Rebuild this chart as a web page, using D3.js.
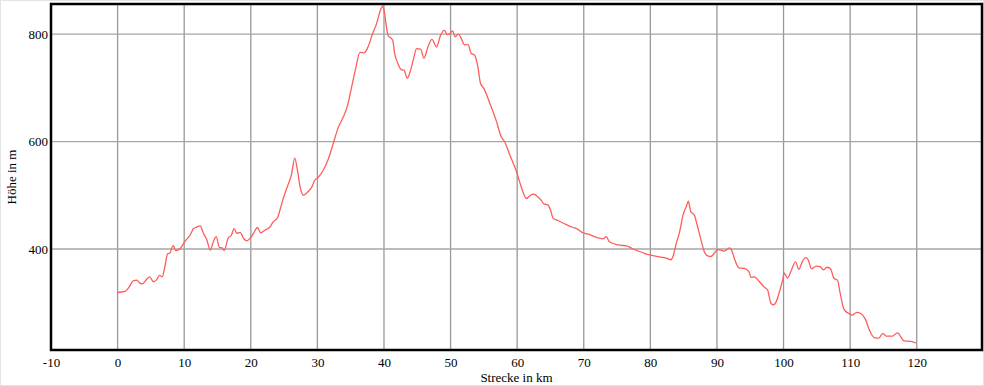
<!DOCTYPE html>
<html>
<head>
<meta charset="utf-8">
<script src="https://cdn.jsdelivr.net/npm/d3@7"></script>
<style>
  body { margin: 0; background: #fff; }
  svg { display: block; font-family: "Liberation Serif", "DejaVu Serif", serif; }
  .tick text { font-size: 13px; fill: #000; }
</style>
</head>
<body>
<div id="vis"></div>
<script>
// Höhenprofil: Strecke (km) und Höhe (m)
const strecke = [0, 1.1, 1.6, 2.4, 2.9, 3.4, 3.7, 4.4, 4.8, 5.4, 5.8, 6.3, 6.7, 7.1, 7.5, 7.9, 8.1, 8.4, 8.7, 9.4,
  10.1, 10.9, 11.4, 11.9, 12.4, 12.9, 13.4, 13.9, 14.4, 14.8, 15.3, 15.7, 16.0, 16.6, 17.1, 17.5, 17.9, 18.4, 18.9, 19.4,
  19.9, 20.4, 21.0, 21.5, 22.1, 22.8, 23.4, 24.0, 24.4, 24.8, 25.4, 26.1, 26.6, 27.0, 27.4, 27.9, 28.6, 29.2, 29.6, 30.1,
  30.9, 31.6, 32.4, 33.1, 33.9, 34.5, 35.1, 35.7, 36.4, 37.0, 37.6, 38.3, 38.9, 39.4, 39.8, 40.0, 40.3, 40.6, 41.3, 41.6,
  42.1, 42.6, 43.0, 43.5, 44.0, 44.4, 44.9, 45.5, 46.0, 46.6, 47.2, 47.9, 48.5, 49.1, 49.5, 49.9, 50.3, 50.7, 51.2, 51.6,
  52.1, 52.6, 53.1, 53.6, 54.1, 54.5, 55.0, 55.9, 56.9, 57.6, 58.1, 58.9, 59.9, 60.6, 61.4, 62.0, 62.5, 63.1, 63.6, 64.0,
  64.6, 65.0, 65.4, 66.1, 67.1, 68.4, 68.9, 69.9, 70.6, 71.6, 72.9, 73.4, 73.8, 75.4, 76.4, 77.4, 78.9, 79.9, 81.1, 82.4,
  83.1, 83.4, 83.9, 84.4, 84.9, 85.4, 85.7, 85.9, 86.1, 86.6, 87.1, 87.6, 88.1, 88.6, 89.1, 89.6, 90.1, 90.6, 91.1, 91.9,
  92.3, 92.6, 93.3, 94.1, 94.8, 95.1, 95.6, 96.4, 97.1, 97.6, 98.1, 98.5, 98.9, 99.4, 99.9, 100.1, 100.6, 101.1, 101.8, 102.3,
  102.8, 103.3, 103.7, 104.2, 104.9, 105.5, 106.0, 106.5, 107.0, 107.6, 108.1, 108.5, 109.1, 109.8, 110.3, 111.0, 111.6, 112.3, 112.9, 113.6,
  114.3, 114.9, 115.4, 116.4, 117.1, 118.1, 119.1, 119.9]
const hoehe = [319, 321, 327, 341, 342, 336, 335, 344, 348, 339, 342, 351, 348, 367, 391, 393, 401, 406, 397, 401,
  414, 426, 438, 441, 443, 429, 417, 398, 414, 423, 403, 402, 397, 420, 426, 438, 429, 431, 420, 415,
  420, 429, 440, 430, 435, 440, 451, 458, 473, 491, 513, 538, 569, 547, 516, 500, 507, 516, 528, 533,
  547, 566, 597, 625, 646, 666, 699, 733, 766, 765, 776, 801, 820, 842, 852, 845, 820, 798, 789, 764,
  745, 734, 733, 718, 733, 752, 773, 772, 755, 776, 790, 776, 798, 807, 799, 801, 806, 795, 800, 792,
  780, 781, 764, 761, 739, 708, 699, 671, 637, 609, 600, 575, 544, 516, 494, 500, 502, 497, 491, 484,
  482, 473, 457, 453, 447, 440, 438, 430, 428, 423, 419, 423, 414, 407, 406, 400, 393, 389, 386, 383,
  380, 386, 411, 432, 463, 479, 489, 479, 469, 463, 441, 417, 395, 387, 386, 392, 399, 398, 396, 402,
  395, 383, 365, 364, 358, 347, 348, 339, 329, 324, 299, 296, 302, 321, 344, 355, 346, 358, 376, 362,
  376, 384, 380, 363, 368, 367, 361, 366, 364, 345, 342, 318, 287, 280, 277, 282, 280, 269, 249, 235,
  234, 243, 238, 238, 244, 229, 228, 225]
const xTicks = [-10, 0, 10, 20, 30, 40, 50, 60, 70, 80, 90, 100, 110, 120]
const yTicks = [400, 600, 800]

const profil = strecke.map((d, i) => ({km: d, m: hoehe[i]}))

const W = 984, H = 386
const margin = {top: 4, right: 2, bottom: 36, left: 51}
const width = W - margin.left - margin.right
const height = H - margin.top - margin.bottom
const serif = '"Liberation Serif", "DejaVu Serif", serif'

const svg = d3.select('#vis').append('svg')
    .attr('width', W)
    .attr('height', H)

// dezenter Rahmen ums Bild
svg.append('rect')
    .attr('x', 0.5).attr('y', 0.5)
    .attr('width', W - 1).attr('height', H - 1)
    .attr('fill', 'none')
    .attr('stroke', '#e4e4e4')

const g = svg.append('g')
    .attr('transform', `translate(${margin.left},${margin.top})`)

const x = d3.scaleLinear().domain([-10, 129.8]).range([0, width])
const y = d3.scaleLinear().domain([212, 856]).range([height, 0])

// Gitter
g.selectAll('.vgrid')
    .data(xTicks.filter(d => d > -10))
    .enter().append('line')
    .attr('class', 'vgrid')
    .attr('x1', d => x(d)).attr('x2', d => x(d))
    .attr('y1', 0).attr('y2', height)
    .attr('stroke', '#999')
    .attr('stroke-width', 1.3)

g.selectAll('.hgrid')
    .data(yTicks)
    .enter().append('line')
    .attr('class', 'hgrid')
    .attr('x1', 0).attr('x2', width)
    .attr('y1', d => y(d)).attr('y2', d => y(d))
    .attr('stroke', '#a6a6a6')
    .attr('stroke-width', 1.3)

// Achsen (nur Beschriftung), normales Minuszeichen wie im Original
const xAxis = g.append('g')
    .attr('transform', `translate(0,${height})`)
    .call(d3.axisBottom(x).tickValues(xTicks).tickFormat(d => String(d)).tickSize(0).tickPadding(8))
xAxis.attr('font-family', serif)
xAxis.select('.domain').remove()

const yAxis = g.append('g')
    .call(d3.axisLeft(y).tickValues(yTicks).tickFormat(d => String(d)).tickSize(0).tickPadding(3))
yAxis.attr('font-family', serif)
yAxis.select('.domain').remove()

// Profillinie
const line = d3.line()
    .x(d => x(d.km))
    .y(d => y(d.m))
    .curve(d3.curveMonotoneX)

g.append('path')
    .datum(profil)
    .attr('d', line)
    .attr('fill', 'none')
    .attr('stroke', '#ff5c5c')
    .attr('stroke-width', 1.3)

// Rahmen des Plotbereichs
g.append('rect')
    .attr('x', 0).attr('y', 0)
    .attr('width', width).attr('height', height)
    .attr('fill', 'none')
    .attr('stroke', '#000')
    .attr('stroke-width', 2.5)

svg.append('text')
    .attr('x', margin.left + width / 2)
    .attr('y', 382)
    .attr('text-anchor', 'middle')
    .style('font-size', '13px')
    .text('Strecke in km')

svg.append('text')
    .attr('transform', 'rotate(-90)')
    .attr('x', -(margin.top + height / 2))
    .attr('y', 16)
    .attr('text-anchor', 'middle')
    .style('font-size', '13px')
    .text('Höhe in m')
</script>
</body>
</html>
